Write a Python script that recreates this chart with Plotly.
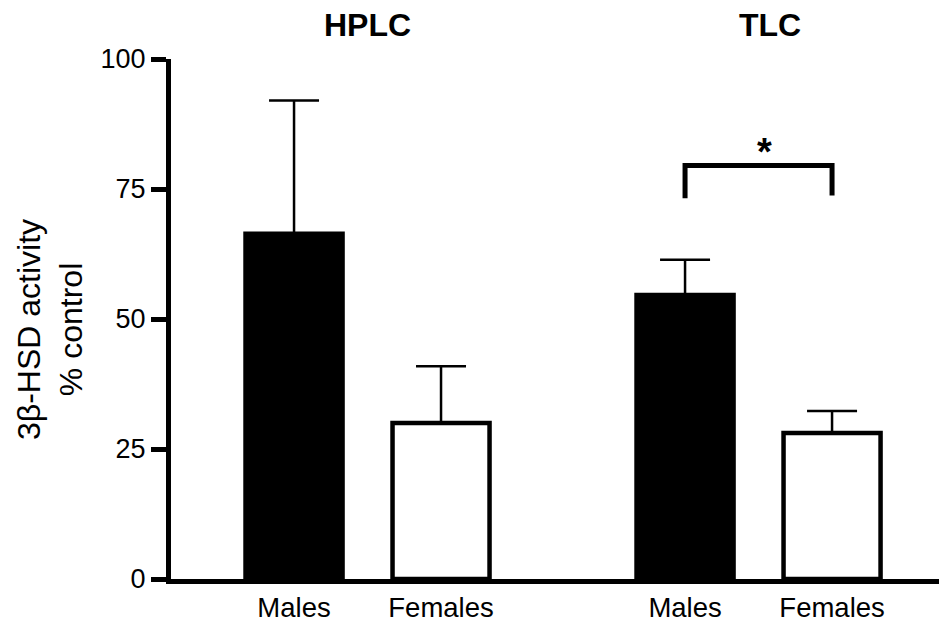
import plotly.graph_objects as go

# ---- data ----
groups = ["HPLC", "TLC"]
sexes = ["Males", "Females"]
hplc_mean = [66.4, 30.0]
hplc_sem = [25.6, 10.9]
tlc_mean = [54.6, 28.1]
tlc_sem = [6.8, 4.2]
y_ticks = [0, 25, 50, 75, 100]
y_title = "3β-HSD activity<br>% control"
sig_label = "*"

# ---- layout constants ----
group_offset = 2.66
bar_w = 0.66
bracket_top = 79.5
bracket_left_bottom = 73.2
bracket_right_bottom = 73.75
star_y = 82.2
FONT = "Liberation Sans, Arial, Helvetica, sans-serif"
PAGE_PAD = 8  # default body margin of the html page

means = [hplc_mean, tlc_mean]
sems = [hplc_sem, tlc_sem]

fig = go.Figure()
fills = {"Males": "black", "Females": "white"}
tick_pos, tick_txt = [], []
for si, sex in enumerate(sexes):
    xs = [gi * group_offset + 1 + si for gi in range(len(groups))]
    ys = [means[gi][si] for gi in range(len(groups))]
    es = [sems[gi][si] for gi in range(len(groups))]
    tick_pos += xs
    tick_txt += [sex] * len(xs)
    fig.add_trace(go.Bar(
        x=xs, y=ys, width=bar_w, name=sex,
        marker=dict(color=fills[sex], line=dict(color="black", width=4.5)),
        error_y=dict(type="data", array=es, arrayminus=[0] * len(es), symmetric=False,
                     color="black", thickness=2.5, width=25),
        showlegend=False,
    ))

# significance bracket on TLC pair
xm = 1 * group_offset + 1
xf = 1 * group_offset + 2
fig.add_shape(type="path",
              path=f"M {xm},{bracket_left_bottom} L {xm},{bracket_top} L {xf},{bracket_top} L {xf},{bracket_right_bottom}",
              xref="x", yref="y", line=dict(color="black", width=5))
fig.add_annotation(x=(xm + xf) / 2, y=star_y, xref="x", yref="y", text=f"<b>{sig_label}</b>",
                   showarrow=False, font=dict(size=38, color="black", family=FONT),
                   yanchor="middle", xshift=6)

# group titles
for gi, g in enumerate(groups):
    cx = gi * group_offset + 1.5
    fig.add_annotation(x=cx, y=1, xref="x", yref="paper", text=f"<b>{g}</b>", showarrow=False,
                       yanchor="middle", yshift=34, xshift=11 * gi,
                       font=dict(size=32, color="black", family=FONT))

# y title
fig.add_annotation(x=0, y=0.5, xref="paper", yref="paper", text=y_title, textangle=-90,
                   showarrow=False, xanchor="center", yanchor="middle", xshift=-121, yshift=-11,
                   font=dict(size=32, color="black", family=FONT))

fig.update_layout(
    width=947 - PAGE_PAD, height=623 - PAGE_PAD,
    margin=dict(l=171 - PAGE_PAD, r=0, t=59 - PAGE_PAD, b=44, autoexpand=False),
    paper_bgcolor="white", plot_bgcolor="white",
    barmode="overlay",
    font=dict(family=FONT, color="black"),
    xaxis=dict(range=[0.163, 5.442], showline=True, linecolor="black", linewidth=5,
               showgrid=False, zeroline=False, ticks="", tickvals=tick_pos, ticktext=tick_txt,
               automargin=False, tickfont=dict(size=27.5, color="black")),
    yaxis=dict(range=[0, 100], showline=True, linecolor="black", linewidth=5,
               showgrid=False, zeroline=False, ticks="outside", ticklen=15, tickwidth=5,
               automargin=False, tickcolor="black", tickvals=y_ticks,
               tickfont=dict(size=27, color="black")),
)

fig.write_html("out.html")
